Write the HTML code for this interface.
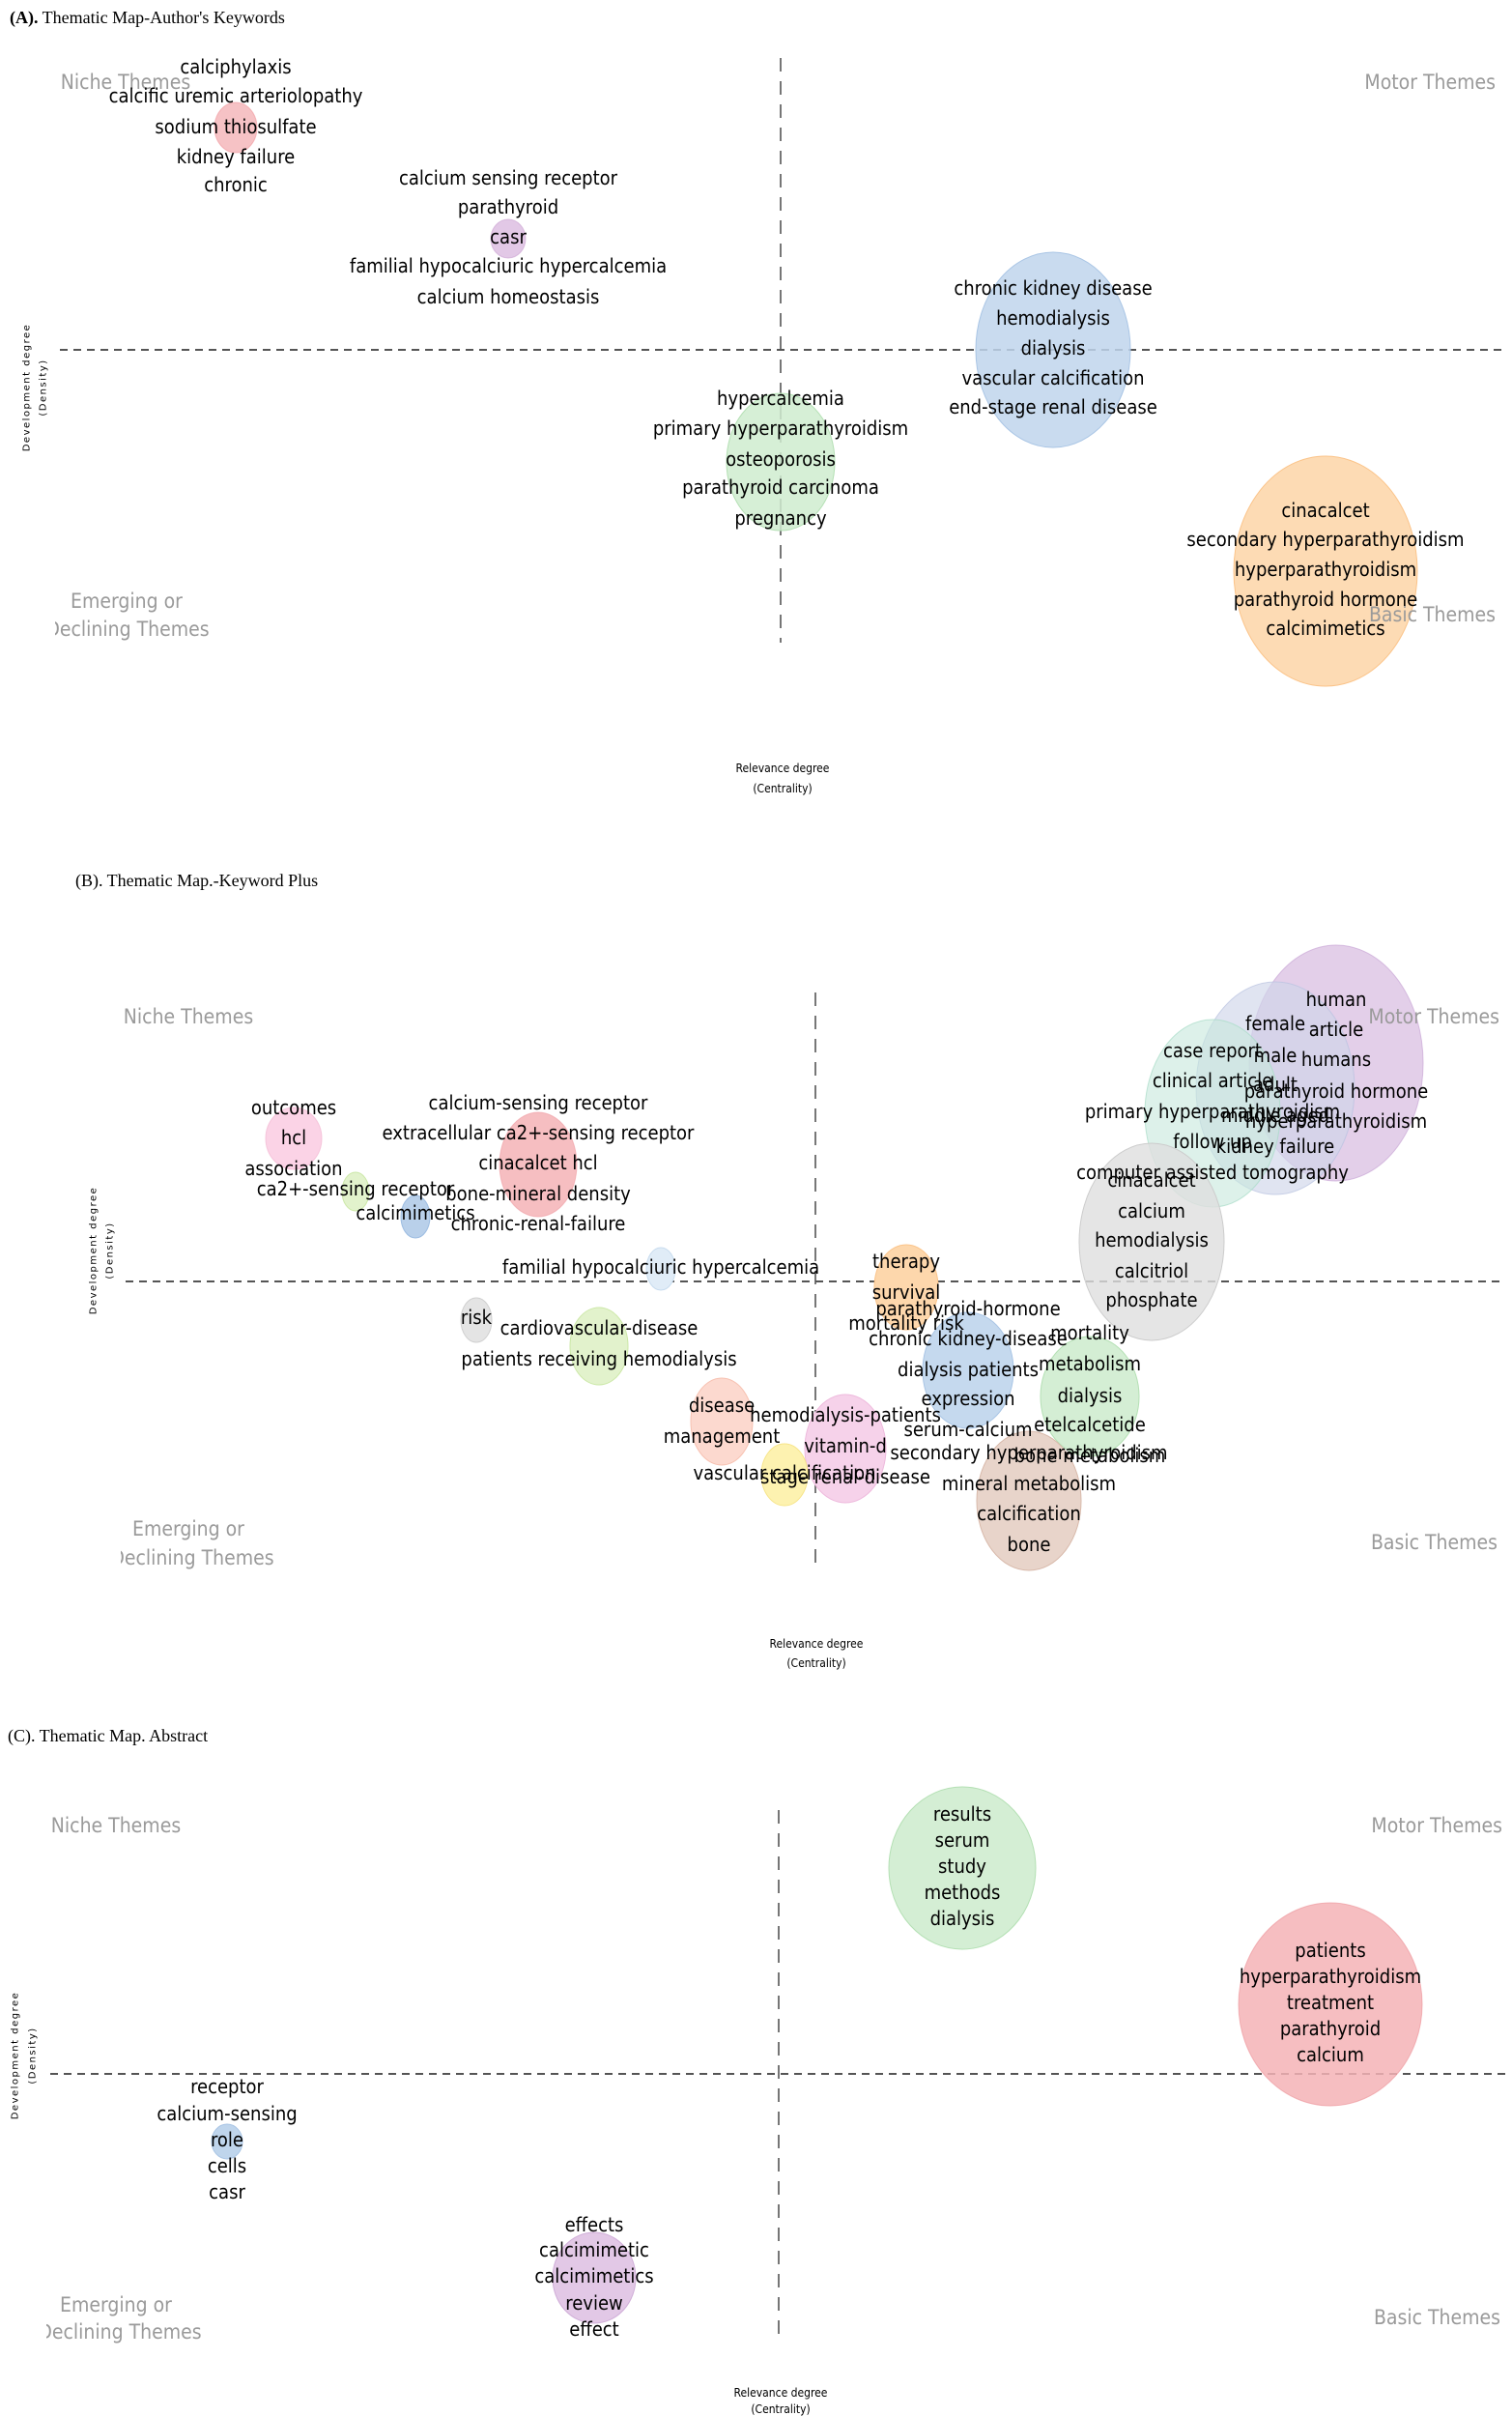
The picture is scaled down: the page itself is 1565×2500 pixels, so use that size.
<!DOCTYPE html>
<html><head><meta charset="utf-8"><style>
html,body{margin:0;padding:0;background:#fff;}
svg{display:block;}
.t{font-family:"DejaVu Sans Condensed","Liberation Sans Narrow","DejaVu Sans",sans-serif;font-stretch:condensed;font-size:20px;fill:#000;text-anchor:middle;dominant-baseline:central;}
.q{font-family:"DejaVu Sans Condensed","Liberation Sans Narrow","DejaVu Sans",sans-serif;font-stretch:condensed;font-size:21px;fill:#9a9a9a;dominant-baseline:central;}
.ttl{font-family:"Liberation Serif",serif;font-size:18px;fill:#000;dominant-baseline:central;}
.ax{font-family:"DejaVu Sans Condensed","Liberation Sans Narrow",sans-serif;font-stretch:condensed;font-size:12px;fill:#000;text-anchor:middle;dominant-baseline:central;}
.ay{font-family:"DejaVu Sans","Liberation Sans",sans-serif;font-size:10px;letter-spacing:1.5px;fill:#000;text-anchor:middle;dominant-baseline:central;}
.d{stroke:#555;stroke-width:2;stroke-dasharray:8,6;fill:none;}
.dv{stroke:#555;stroke-width:1.6;stroke-dasharray:14,10;fill:none;}
</style></head><body>
<svg width="1565" height="2500" viewBox="0 0 1565 2500" xmlns="http://www.w3.org/2000/svg">
<defs>
<clipPath id="cA"><rect x="57" y="0" width="400" height="2500"/></clipPath>
<clipPath id="cB"><rect x="125" y="0" width="400" height="2500"/></clipPath>
<clipPath id="cC"><rect x="48" y="0" width="400" height="2500"/></clipPath>
</defs>

<!-- ============ PANEL A ============ -->
<text class="ttl" x="10" y="18"><tspan font-weight="bold">(A).</tspan> Thematic Map-Author's Keywords</text>
<line class="dv" x1="808" y1="60" x2="808" y2="665"/>
<line class="d" x1="62" y1="362" x2="1555" y2="362"/>
<text class="ay" transform="translate(28,401) rotate(-90)">Development degree</text>
<text class="ay" transform="translate(45,401) rotate(-90)">(Density)</text>
<text class="ax" x="810" y="795">Relevance degree</text>
<text class="ax" x="810" y="816">(Centrality)</text>

<ellipse cx="244" cy="132" rx="22" ry="26" fill="#f4b3b6" fill-opacity=".8" stroke="#f08a90" stroke-opacity=".5"/>
<ellipse cx="526" cy="247" rx="18" ry="20" fill="#e2c8e6" stroke="#c9a0d0" stroke-opacity=".6"/>
<ellipse cx="1090" cy="362" rx="80" ry="101" fill="#bfd5ec" fill-opacity=".85" stroke="#a9c5e5"/>
<ellipse cx="808" cy="478" rx="56" ry="71" fill="#cfeccf" fill-opacity=".85" stroke="#b4e0b4"/>
<ellipse cx="1372" cy="591" rx="95" ry="119" fill="#fdd7ac" fill-opacity=".9" stroke="#fbc48a"/>

<text class="q" x="130" y="85" text-anchor="middle">Niche Themes</text>
<text class="q" x="1548" y="85" text-anchor="end">Motor Themes</text>
<text class="q" x="131" y="622" text-anchor="middle">Emerging or</text>
<text class="q" x="132" y="651" text-anchor="middle" clip-path="url(#cA)">Declining Themes</text>
<text class="q" x="1548" y="636" text-anchor="end">Basic Themes</text>

<text class="t" x="244" y="69">calciphylaxis</text>
<text class="t" x="244" y="99">calcific uremic arteriolopathy</text>
<text class="t" x="244" y="131">sodium thiosulfate</text>
<text class="t" x="244" y="162">kidney failure</text>
<text class="t" x="244" y="191">chronic</text>
<text class="t" x="526" y="184">calcium sensing receptor</text>
<text class="t" x="526" y="214">parathyroid</text>
<text class="t" x="526" y="245">casr</text>
<text class="t" x="526" y="275">familial hypocalciuric hypercalcemia</text>
<text class="t" x="526" y="307">calcium homeostasis</text>
<text class="t" x="1090" y="298">chronic kidney disease</text>
<text class="t" x="1090" y="329">hemodialysis</text>
<text class="t" x="1090" y="360">dialysis</text>
<text class="t" x="1090" y="391">vascular calcification</text>
<text class="t" x="1090" y="421">end-stage renal disease</text>
<text class="t" x="808" y="412">hypercalcemia</text>
<text class="t" x="808" y="443">primary hyperparathyroidism</text>
<text class="t" x="808" y="475">osteoporosis</text>
<text class="t" x="808" y="504">parathyroid carcinoma</text>
<text class="t" x="808" y="536">pregnancy</text>
<text class="t" x="1372" y="528">cinacalcet</text>
<text class="t" x="1372" y="558">secondary hyperparathyroidism</text>
<text class="t" x="1372" y="589">hyperparathyroidism</text>
<text class="t" x="1372" y="620">parathyroid hormone</text>
<text class="t" x="1372" y="650">calcimimetics</text>

<!-- ============ PANEL B ============ -->
<text class="ttl" x="78" y="911">(B). Thematic Map.-Keyword Plus</text>
<line class="dv" x1="844" y1="1027" x2="844" y2="1625"/>
<line class="d" x1="130" y1="1326" x2="1555" y2="1326"/>
<text class="ay" transform="translate(97,1294) rotate(-90)">Development degree</text>
<text class="ay" transform="translate(114,1294) rotate(-90)">(Density)</text>
<text class="ax" x="845" y="1701">Relevance degree</text>
<text class="ax" x="845" y="1721">(Centrality)</text>

<ellipse cx="1383" cy="1100" rx="90" ry="122" fill="#dcc3e4" fill-opacity=".8" stroke="#c9a6d6" stroke-opacity=".7"/>
<ellipse cx="1320" cy="1126" rx="82" ry="110" fill="#cfd6ea" fill-opacity=".65" stroke="#b8c2e0" stroke-opacity=".7"/>
<ellipse cx="1255" cy="1152" rx="70" ry="97" fill="#c6e8dc" fill-opacity=".6" stroke="#a6dcc6" stroke-opacity=".7"/>
<ellipse cx="1192" cy="1285" rx="75" ry="102" fill="#dedede" fill-opacity=".8" stroke="#cccccc"/>
<ellipse cx="304" cy="1178" rx="29" ry="32" fill="#fbd3e6" stroke="#f2b6d2" stroke-opacity=".7"/>
<ellipse cx="368" cy="1233" rx="14" ry="20" fill="#e2f2cc" stroke="#cce8a8"/>
<ellipse cx="430" cy="1259" rx="15" ry="22" fill="#b9d0ea" stroke="#9dbde2"/>
<ellipse cx="557" cy="1205" rx="40" ry="54" fill="#f4b3b6" fill-opacity=".85" stroke="#ee9aa0" stroke-opacity=".6"/>
<ellipse cx="684" cy="1313" rx="15" ry="22" fill="#e0ecf7" stroke="#c8dcef"/>
<ellipse cx="493" cy="1366" rx="16" ry="23" fill="#e4e4e4" stroke="#d0d0d0"/>
<ellipse cx="620" cy="1393" rx="30" ry="40" fill="#e2f2cc" stroke="#cce8a8"/>
<ellipse cx="747" cy="1471" rx="32" ry="45" fill="#fcd9cf" stroke="#f7c2b2"/>
<ellipse cx="875" cy="1499" rx="42" ry="56" fill="#f6d2ea" stroke="#eebadd"/>
<ellipse cx="812" cy="1526" rx="24" ry="32" fill="#fdf2b0" stroke="#f7e58a"/>
<ellipse cx="938" cy="1332" rx="33" ry="44" fill="#fdd7ac" stroke="#fbc48a"/>
<ellipse cx="1002" cy="1418" rx="47" ry="60" fill="#bfd5ec" fill-opacity=".9" stroke="#a9c5e5"/>
<ellipse cx="1128" cy="1445" rx="51" ry="62" fill="#cfeccf" fill-opacity=".9" stroke="#b4e0b4"/>
<ellipse cx="1065" cy="1553" rx="54" ry="72" fill="#e6cfc4" fill-opacity=".9" stroke="#d8b9aa"/>

<text class="q" x="195" y="1052" text-anchor="middle">Niche Themes</text>
<text class="q" x="1552" y="1052" text-anchor="end">Motor Themes</text>
<text class="q" x="195" y="1582" text-anchor="middle">Emerging or</text>
<text class="q" x="199" y="1612" text-anchor="middle" clip-path="url(#cB)">Declining Themes</text>
<text class="q" x="1550" y="1596" text-anchor="end">Basic Themes</text>

<text class="t" x="304" y="1146">outcomes</text>
<text class="t" x="304" y="1177">hcl</text>
<text class="t" x="304" y="1209">association</text>
<text class="t" x="368" y="1230">ca2+-sensing receptor</text>
<text class="t" x="430" y="1255">calcimimetics</text>
<text class="t" x="557" y="1141">calcium-sensing receptor</text>
<text class="t" x="557" y="1172">extracellular ca2+-sensing receptor</text>
<text class="t" x="557" y="1203">cinacalcet hcl</text>
<text class="t" x="557" y="1235">bone-mineral density</text>
<text class="t" x="557" y="1266">chronic-renal-failure</text>
<text class="t" x="684" y="1311">familial hypocalciuric hypercalcemia</text>
<text class="t" x="493" y="1363">risk</text>
<text class="t" x="620" y="1374">cardiovascular-disease</text>
<text class="t" x="620" y="1406">patients receiving hemodialysis</text>
<text class="t" x="747" y="1454">disease</text>
<text class="t" x="747" y="1486">management</text>
<text class="t" x="812" y="1524">vascular calcification</text>
<text class="t" x="875" y="1464">hemodialysis-patients</text>
<text class="t" x="875" y="1496">vitamin-d</text>
<text class="t" x="875" y="1528">stage renal-disease</text>
<text class="t" x="938" y="1305">therapy</text>
<text class="t" x="938" y="1337">survival</text>
<text class="t" x="938" y="1369">mortality risk</text>
<text class="t" x="1002" y="1354">parathyroid-hormone</text>
<text class="t" x="1002" y="1385">chronic kidney-disease</text>
<text class="t" x="1002" y="1417">dialysis patients</text>
<text class="t" x="1002" y="1447">expression</text>
<text class="t" x="1002" y="1479">serum-calcium</text>
<text class="t" x="1128" y="1379">mortality</text>
<text class="t" x="1128" y="1411">metabolism</text>
<text class="t" x="1128" y="1444">dialysis</text>
<text class="t" x="1128" y="1474">etelcalcetide</text>
<text class="t" x="1128" y="1506">bone metabolism</text>
<text class="t" x="1065" y="1503">secondary hyperparathyroidism</text>
<text class="t" x="1065" y="1535">mineral metabolism</text>
<text class="t" x="1065" y="1566">calcification</text>
<text class="t" x="1065" y="1598">bone</text>
<text class="t" x="1192" y="1221">cinacalcet</text>
<text class="t" x="1192" y="1253">calcium</text>
<text class="t" x="1192" y="1283">hemodialysis</text>
<text class="t" x="1192" y="1315">calcitriol</text>
<text class="t" x="1192" y="1345">phosphate</text>
<text class="t" x="1255" y="1087">case report</text>
<text class="t" x="1255" y="1118">clinical article</text>
<text class="t" x="1255" y="1150">primary hyperparathyroidism</text>
<text class="t" x="1255" y="1181">follow up</text>
<text class="t" x="1255" y="1213">computer assisted tomography</text>
<text class="t" x="1320" y="1059">female</text>
<text class="t" x="1320" y="1092">male</text>
<text class="t" x="1320" y="1122">adult</text>
<text class="t" x="1320" y="1154">middle aged</text>
<text class="t" x="1320" y="1186">kidney failure</text>
<text class="t" x="1383" y="1034">human</text>
<text class="t" x="1383" y="1065">article</text>
<text class="t" x="1383" y="1096">humans</text>
<text class="t" x="1383" y="1129">parathyroid hormone</text>
<text class="t" x="1383" y="1160">hyperparathyroidism</text>

<!-- ============ PANEL C ============ -->
<text class="ttl" x="8" y="1796">(C). Thematic Map. Abstract</text>
<line class="dv" x1="806" y1="1873" x2="806" y2="2425"/>
<line class="d" x1="52" y1="2146" x2="1560" y2="2146"/>
<text class="ay" transform="translate(16,2127) rotate(-90)">Development degree</text>
<text class="ay" transform="translate(34,2127) rotate(-90)">(Density)</text>
<text class="ax" x="808" y="2476">Relevance degree</text>
<text class="ax" x="808" y="2493">(Centrality)</text>

<ellipse cx="996" cy="1933" rx="76" ry="84" fill="#cfeccf" fill-opacity=".9" stroke="#b4e0b4"/>
<ellipse cx="1377" cy="2074" rx="95" ry="105" fill="#f4b3b6" fill-opacity=".85" stroke="#ee9aa0" stroke-opacity=".7"/>
<ellipse cx="235" cy="2216" rx="16" ry="18" fill="#bfd5ec" stroke="#a9c5e5"/>
<ellipse cx="615" cy="2357" rx="43" ry="47" fill="#e2c8e6" stroke="#d0aed8"/>

<text class="q" x="120" y="1889" text-anchor="middle">Niche Themes</text>
<text class="q" x="1555" y="1889" text-anchor="end">Motor Themes</text>
<text class="q" x="120" y="2385" text-anchor="middle">Emerging or</text>
<text class="q" x="124" y="2413" text-anchor="middle" clip-path="url(#cC)">Declining Themes</text>
<text class="q" x="1553" y="2398" text-anchor="end">Basic Themes</text>

<text class="t" x="996" y="1877">results</text>
<text class="t" x="996" y="1904">serum</text>
<text class="t" x="996" y="1931">study</text>
<text class="t" x="996" y="1958">methods</text>
<text class="t" x="996" y="1985">dialysis</text>
<text class="t" x="1377" y="2018">patients</text>
<text class="t" x="1377" y="2045">hyperparathyroidism</text>
<text class="t" x="1377" y="2072">treatment</text>
<text class="t" x="1377" y="2099">parathyroid</text>
<text class="t" x="1377" y="2126">calcium</text>
<text class="t" x="235" y="2159">receptor</text>
<text class="t" x="235" y="2187">calcium-sensing</text>
<text class="t" x="235" y="2214">role</text>
<text class="t" x="235" y="2241">cells</text>
<text class="t" x="235" y="2268">casr</text>
<text class="t" x="615" y="2302">effects</text>
<text class="t" x="615" y="2328">calcimimetic</text>
<text class="t" x="615" y="2355">calcimimetics</text>
<text class="t" x="615" y="2383">review</text>
<text class="t" x="615" y="2410">effect</text>
</svg>
</body></html>
